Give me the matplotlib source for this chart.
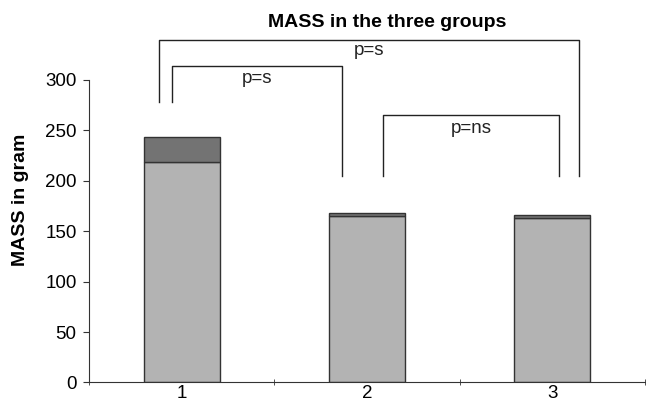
import matplotlib.pyplot as plt
from matplotlib.ticker import FixedLocator

plt.rcParams['font.family'] = ['Liberation Sans', 'DejaVu Sans']

groups = ["1", "2", "3"]
base_mass = [219, 165, 163]
extra_mass = [24, 3, 3]

# significance brackets: (left x, right x, top y, left foot y, right foot y, label, label y)
brackets = [
    (-0.123, 2.145, 340, 278, 205, "p=s", 329),
    (-0.051, 0.867, 314, 278, 205, "p=s", 301),
    (1.085, 2.037, 265, 205, 205, "p=ns", 252),
]

fig = plt.figure(figsize=(6.46, 4.03), dpi=100)
ax = fig.add_axes([0.138, 0.051, 0.86, 0.7505])

x = list(range(len(groups)))
ax.bar(x, base_mass, width=0.41, color="#b3b3b3", edgecolor="#333333", linewidth=1)
ax.bar(x, extra_mass, width=0.41, bottom=base_mass, color="#737373", edgecolor="#333333", linewidth=1)

ax.set_xlim(-0.5, 2.5)
ax.set_ylim(0, 300)
ax.set_yticks(range(0, 301, 50))
ax.set_xticks(x)
ax.set_xticklabels(groups)
ax.xaxis.set_minor_locator(FixedLocator([-0.5, 0.5, 1.5, 2.5]))
ax.tick_params(axis="x", which="major", length=0, labelsize=13.5, pad=2)
ax.tick_params(axis="x", which="minor", length=4, direction="inout", color="#333333")
ax.tick_params(axis="y", length=4, direction="out", labelsize=13.5, pad=5, color="#333333")

for side in ["top", "right"]:
    ax.spines[side].set_visible(False)
for side in ["left", "bottom"]:
    ax.spines[side].set_color("#333333")

ax.set_ylabel("MASS in gram", fontsize=14, fontweight="bold")
ax.yaxis.set_label_coords(-0.108, 0.603)

for x0, x1, top, yl, yr, label, ly in brackets:
    ax.plot([x0, x0, x1, x1], [yl, top, top, yr], color="#222222", linewidth=1, clip_on=False)
    ax.text((x0 + x1) / 2, ly, label, ha="center", va="center", fontsize=13.5, color="#222222")

fig.text(0.6, 0.943, "MASS in the three groups", ha="center", va="center",
         fontsize=14, fontweight="bold")

fig.savefig("out.png", dpi=100)
